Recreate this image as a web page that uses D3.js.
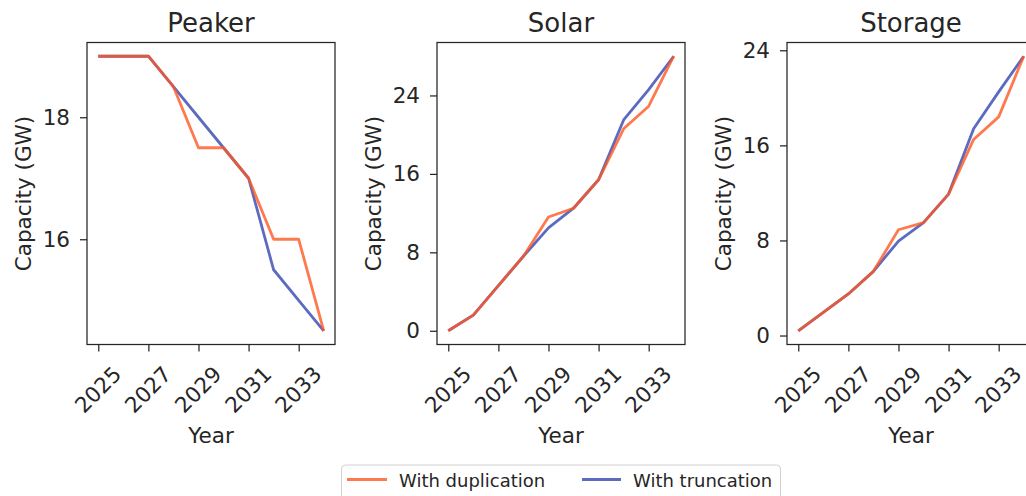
<!DOCTYPE html>
<html>
<head>
<meta charset="utf-8">
<script src="https://cdn.jsdelivr.net/npm/d3@7"></script>
<style>
  html, body { margin: 0; padding: 0; background: #fff; }
  svg { display: block; font-family: "DejaVu Sans", sans-serif; }
</style>
</head>
<body>
<svg id="chart" width="1026" height="496"></svg>
<script>
// ---------------- data ----------------
const years = [2025, 2026, 2027, 2028, 2029, 2030, 2031, 2032, 2033, 2034];
const xTickYears = [2025, 2027, 2029, 2031, 2033];

const panelTitles = ["Peaker", "Solar", "Storage"];

const peakerDuplication = [19, 19, 19, 18.5, 17.5, 17.5, 17.0, 16.0, 16.0, 14.5];
const peakerTruncation  = [19, 19, 19, 18.5, 18.0, 17.5, 17.0, 15.5, 15.0, 14.5];

const solarDuplication  = [0, 1.6, 4.6, 7.6, 11.6, 12.5, 15.4, 20.6, 22.9, 28.0];
const solarTruncation   = [0, 1.6, 4.6, 7.6, 10.5, 12.5, 15.4, 21.5, 24.6, 28.0];

const storageDuplication = [0.4, 1.95, 3.5, 5.4, 8.9, 9.5, 11.9, 16.5, 18.4, 23.5];
const storageTruncation  = [0.4, 1.95, 3.5, 5.4, 7.95, 9.5, 11.9, 17.4, 20.5, 23.5];

const peakerYTicks  = [16, 18];
const solarYTicks   = [0, 8, 16, 24];
const storageYTicks = [0, 8, 16, 24];

const seriesNames = ["With duplication", "With truncation"];
const yAxisLabel = "Capacity (GW)";
const xAxisLabel = "Year";

// ---------------- styling / layout ----------------
const colDup = "#ff5722", dupOpacity = 0.8;
const colTrunc = "#5c6bc0";
const ink = "#262626";
const panelLefts = [87, 437, 787];
const panelW = 248;
const plotTop = 42.5, plotBottom = 344.5;
const lineW = 2.8;

const panels = [
  { title: panelTitles[0], dup: peakerDuplication, trunc: peakerTruncation, ticks: peakerYTicks },
  { title: panelTitles[1], dup: solarDuplication, trunc: solarTruncation, ticks: solarYTicks },
  { title: panelTitles[2], dup: storageDuplication, trunc: storageTruncation, ticks: storageYTicks }
];

const svg = d3.select("#chart");

function padded(ext) {
  const pad = (ext[1] - ext[0]) * 0.05;
  return [ext[0] - pad, ext[1] + pad];
}

panels.forEach((p, i) => {
  const left = panelLefts[i];
  const x = d3.scaleLinear().domain(padded(d3.extent(years))).range([left, left + panelW]);
  const allVals = p.dup.concat(p.trunc);
  const y = d3.scaleLinear().domain(padded(d3.extent(allVals))).range([plotBottom, plotTop]);

  const g = svg.append("g");

  // lines
  const line = (vals) => d3.line().x((d, k) => x(years[k])).y(d => y(d))(vals);
  g.append("path").attr("d", line(p.trunc)).attr("fill", "none")
    .attr("stroke", colTrunc).attr("stroke-width", lineW).attr("stroke-linejoin", "round");
  g.append("path").attr("d", line(p.dup)).attr("fill", "none")
    .attr("stroke", colDup).attr("stroke-opacity", dupOpacity).attr("stroke-width", lineW)
    .attr("stroke-linejoin", "round");

  // frame
  g.append("rect").attr("x", left).attr("y", plotTop).attr("width", panelW).attr("height", plotBottom - plotTop)
    .attr("fill", "none").attr("stroke", ink).attr("stroke-width", 1.25);

  // y axis
  const yAxis = d3.axisLeft(y).tickValues(p.ticks).tickSize(7).tickPadding(10).tickFormat(d3.format("d"));
  const ya = g.append("g").attr("transform", `translate(${left},0)`).call(yAxis);
  ya.select(".domain").remove();
  ya.selectAll(".tick line").attr("stroke", ink).attr("stroke-width", 1.25);
  ya.selectAll(".tick text").attr("fill", ink).style("font-size", "21.5px")
    .style("font-family", "DejaVu Sans");

  // x axis
  const xAxis = d3.axisBottom(x).tickValues(xTickYears).tickSize(7).tickFormat(d3.format("d"));
  const xa = g.append("g").attr("transform", `translate(0,${plotBottom})`).call(xAxis);
  xa.select(".domain").remove();
  xa.selectAll(".tick line").attr("stroke", ink).attr("stroke-width", 1.25);
  xa.selectAll(".tick text")
    .attr("fill", ink).style("font-size", "21.5px").style("font-family", "DejaVu Sans")
    .attr("text-anchor", "middle")
    .attr("y", 0).attr("dy", "0.36em")
    .attr("transform", "translate(-1,45) rotate(-45)");

  // title
  g.append("text").attr("x", left + panelW / 2).attr("y", 31.5)
    .attr("text-anchor", "middle").attr("fill", ink).style("font-size", "26px").text(p.title);

  // x label
  g.append("text").attr("x", left + panelW / 2).attr("y", 443)
    .attr("text-anchor", "middle").attr("fill", ink).style("font-size", "21.5px").text(xAxisLabel);

  // y label
  g.append("text").attr("transform", `translate(${left - 64},${(plotTop + plotBottom) / 2}) rotate(-90)`)
    .attr("text-anchor", "middle").attr("dy", "0.36em").attr("fill", ink)
    .style("font-size", "21.5px").text(yAxisLabel);
});

// legend
const lg = svg.append("g");
lg.append("rect").attr("x", 341.5).attr("y", 465).attr("width", 439).attr("height", 44)
  .attr("rx", 4).attr("fill", "#fff").attr("stroke", "#d0d0d0").attr("stroke-width", 1);
const legendItems = [
  { name: seriesNames[0], color: colDup, op: dupOpacity, x0: 347, x1: 387, tx: 399 },
  { name: seriesNames[1], color: colTrunc, op: 1, x0: 582, x1: 621, tx: 633 }
];
legendItems.forEach(it => {
  lg.append("line").attr("x1", it.x0).attr("x2", it.x1).attr("y1", 479.5).attr("y2", 479.5)
    .attr("stroke", it.color).attr("stroke-opacity", it.op).attr("stroke-width", lineW);
  lg.append("text").attr("x", it.tx).attr("y", 487).attr("fill", ink)
    .style("font-size", "18px").text(it.name);
});
</script>
</body>
</html>
